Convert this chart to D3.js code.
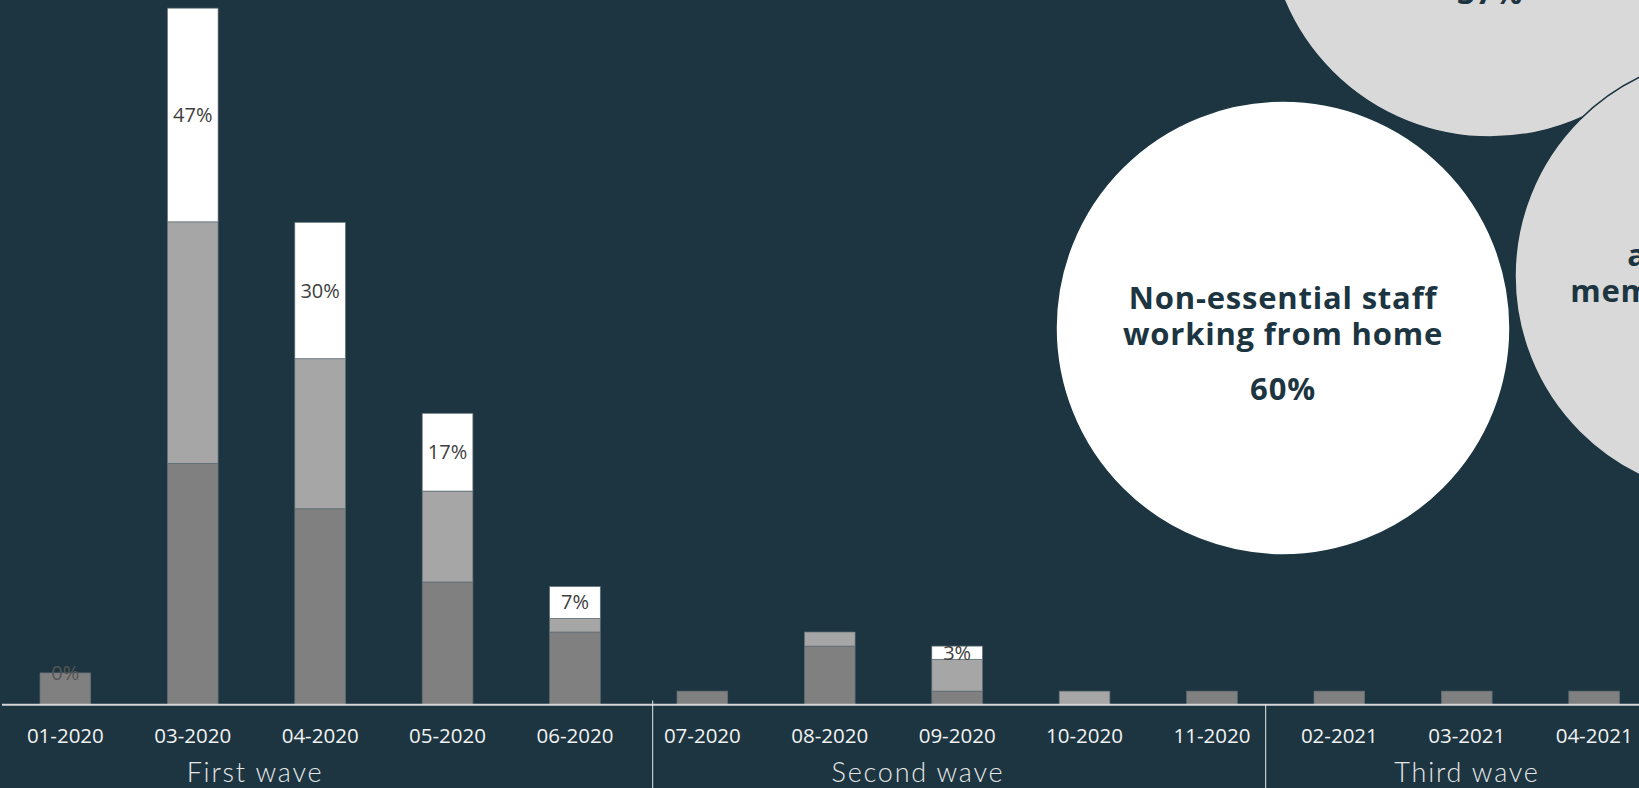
<!DOCTYPE html>
<html>
<head>
<meta charset="utf-8">
<script src="https://cdn.jsdelivr.net/npm/d3@7"></script>
<style>
  body { margin: 0; background: #1c3541; overflow: hidden; }
  svg { display: block; }
</style>
</head>
<body>
<div id="canvas"></div>
<script>
"use strict";

/* ===============================
   Data */
let months = ["01-2020", "03-2020", "04-2020", "05-2020", "06-2020",
              "07-2020", "08-2020", "09-2020", "10-2020", "11-2020",
              "02-2021", "03-2021", "04-2021"];
let darkShare  = [6.9, 53.0, 43.0, 26.9, 15.9, 2.9, 12.8, 2.9, 0,   2.9, 2.9, 2.9, 2.9];
let lightShare = [0,   53.1, 33.0, 20.0, 3.0,  0,   3.1,  7.0, 2.9, 0,   0,   0,   0];
let whiteShare = [0,   47.0, 30.0, 17.1, 7.0,  0,   0,    2.9, 0,   0,   0,   0,   0];
let whiteLabels = ["0%", "47%", "30%", "17%", "7%", "", "", "3%", "", "", "", "", ""];

let waves = ["First wave", "Second wave", "Third wave"];

let bubbleTitles = [
  ["Non-essential staff", "working from home"],
  ["Meetings", "and events", "moved", "online"],
  ["Staff caring", "at-risk family", "members who are ill"]
];
let bubbleValues = ["60%", "37%", "35%"];

/* ===============================
   Layout */
let svgWidth = 1639;
let svgHeight = 788;
let baseY = 704.3;
let bg = "#1c3541";

let waveLabelX = [255, 918, 1467];
let dividerX = [652.7, 1265.7];
let dividerTop = [700.5, 704];

/* bubble placement (packed by hand to match the source view) */
let bubbleSpots = [
  { cx: 1283, cy: 328, r: 227, fill: "#ffffff" },
  { cx: 1490, cy: -86, r: 223, fill: "#d9d9d9" },
  { cx: 1736, cy: 276, r: 221, fill: "#d9d9d9" }
];

let svg = d3.select("#canvas")
  .append("svg")
  .attr("width", svgWidth)
  .attr("height", svgHeight);

svg.append("rect")
  .attr("width", svgWidth)
  .attr("height", svgHeight)
  .attr("fill", bg);

/* Scales */
let xScale = d3.scaleBand()
  .domain(months)
  .range([1.65, 1657.85])
  .paddingInner(0.602)
  .paddingOuter(0.301);

let yScale = d3.scaleLinear()
  .domain([0, 100])
  .range([baseY, baseY - 454.7]);

let table = months.map(function (m, i) {
  return { month: m, dark: darkShare[i], light: lightShare[i], white: whiteShare[i], label: whiteLabels[i] };
});

let keys = ["dark", "light", "white"];
let colors = { dark: "#808080", light: "#a6a6a6", white: "#ffffff" };

let stacked = d3.stack().keys(keys)(table);

/* Bars */
svg.append("g")
  .selectAll("g")
  .data(stacked)
  .join("g")
  .attr("fill", function (s) { return colors[s.key]; })
  .selectAll("rect")
  .data(function (s) { return s.filter(function (d) { return d[1] - d[0] > 0; }); })
  .join("rect")
  .attr("x", function (d) { return xScale(d.data.month); })
  .attr("width", xScale.bandwidth())
  .attr("y", function (d) { return yScale(d[1]); })
  .attr("height", function (d) { return yScale(d[0]) - yScale(d[1]); })
  .attr("stroke", "#5e6d74")
  .attr("stroke-width", 0.7);

/* Labels on white segment */
let whiteLayer = stacked[2];
svg.append("g")
  .selectAll("text")
  .data(whiteLayer.filter(function (d) { return d.data.label !== ""; }))
  .join("text")
  .attr("x", function (d) { return xScale(d.data.month) + xScale.bandwidth() / 2; })
  .attr("y", function (d) { return (yScale(d[0]) + yScale(d[1])) / 2 + 7; })
  .attr("text-anchor", "middle")
  .attr("font-family", "'Open Sans', sans-serif")
  .attr("font-size", 20)
  .attr("fill", function (d) { return d[1] - d[0] > 0 ? "#404040" : "#555555"; })
  .text(function (d) { return d.data.label; });

/* Axis line */
svg.append("line")
  .attr("x1", 2)
  .attr("x2", svgWidth)
  .attr("y1", baseY + 0.5)
  .attr("y2", baseY + 0.5)
  .attr("stroke", "#d6d6d6")
  .attr("stroke-width", 2);

/* Category labels */
let xAxis = d3.axisBottom(xScale).tickSize(0).tickPadding(0);
let axisG = svg.append("g")
  .attr("transform", "translate(0," + baseY + ")")
  .call(xAxis);
axisG.select(".domain").remove();
axisG.selectAll("text")
  .attr("dy", null)
  .attr("y", 39)
  .attr("font-family", "'Open Sans', sans-serif")
  .attr("font-size", 20.5)
  .attr("fill", "#f2f2f2");

/* Wave dividers and labels */
for (let i = 0; i < dividerX.length; i = i + 1) {
  svg.append("line")
    .attr("x1", dividerX[i])
    .attr("x2", dividerX[i])
    .attr("y1", dividerTop[i])
    .attr("y2", svgHeight)
    .attr("stroke", "#e8e8e8")
    .attr("stroke-width", 1);
}

svg.append("g")
  .selectAll("text")
  .data(waves)
  .join("text")
  .attr("x", function (d, i) { return waveLabelX[i]; })
  .attr("y", 782)
  .attr("text-anchor", "middle")
  .attr("font-family", "Lato, sans-serif")
  .attr("font-weight", 300)
  .attr("font-size", 27)
  .attr("letter-spacing", 1.8)
  .attr("fill", "#e6e6e6")
  .text(function (d) { return d; });

/* Bubbles */
let bubbles = svg.append("g")
  .selectAll("g")
  .data(bubbleSpots)
  .join("g");

bubbles.append("circle")
  .attr("cx", function (d) { return d.cx; })
  .attr("cy", function (d) { return d.cy; })
  .attr("r", function (d) { return d.r; })
  .attr("fill", function (d) { return d.fill; })
  .attr("stroke", bg)
  .attr("stroke-width", 1.5);

bubbles.each(function (d, i) {
  let lines = bubbleTitles[i];
  let n = lines.length;
  let firstY = d.cy + 35 - 27 * n;
  let g = d3.select(this);
  for (let k = 0; k < n; k = k + 1) {
    g.append("text")
      .attr("x", d.cx)
      .attr("y", firstY + k * 36)
      .attr("text-anchor", "middle")
      .attr("font-family", "'Open Sans', sans-serif")
      .attr("font-weight", 700)
      .attr("font-size", 31)
      .attr("letter-spacing", 0.8)
      .attr("fill", "#1c3541")
      .text(lines[k]);
  }
  g.append("text")
    .attr("x", d.cx)
    .attr("y", firstY + (n - 1) * 36 + 55)
    .attr("text-anchor", "middle")
    .attr("font-family", "'Open Sans', sans-serif")
    .attr("font-weight", 700)
    .attr("font-size", 31)
    .attr("letter-spacing", 0.8)
    .attr("fill", "#1c3541")
    .text(bubbleValues[i]);
});
</script>
</body>
</html>
